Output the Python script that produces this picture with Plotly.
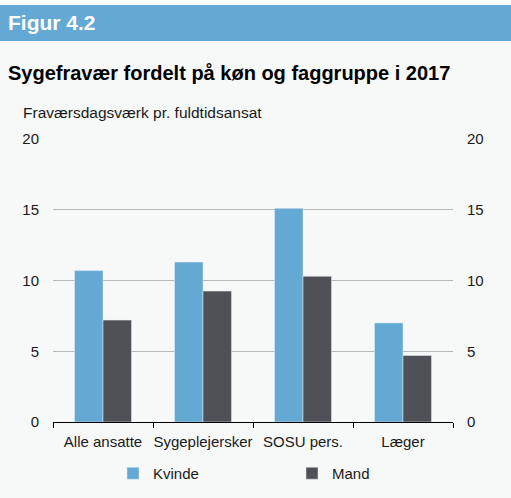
import plotly.graph_objects as go

categories = ["Alle ansatte", "Sygeplejersker", "SOSU pers.", "Læger"]
kvinde = [10.7, 11.3, 15.1, 7.0]
mand = [7.2, 9.25, 10.3, 4.7]
y_ticks = [0, 5, 10, 15, 20]

W, H = 511, 498
L, R, T, B = 53, 58, 139, 76
PW = W - L - R
PH = H - T - B

def px_x(x):
    return (x - L) / PW

def px_y(y):
    return (H - B - y) / PH

fig = go.Figure()
fig.add_trace(go.Bar(x=categories, y=kvinde, name="Kvinde", marker_color="#63a9d4"))
fig.add_trace(go.Bar(x=categories, y=mand, name="Mand", marker_color="#505156"))
fig.add_trace(go.Scatter(x=categories, y=[None]*4, yaxis="y2", showlegend=False, hoverinfo="skip"))

font = "Liberation Sans, Arial, sans-serif"
fig.update_layout(
    width=W, height=H,
    margin=dict(l=L, r=R, t=T, b=B, autoexpand=False),
    paper_bgcolor="#f7f8f8",
    plot_bgcolor="#f7f8f8",
    font=dict(family=font, size=15, color="#1a1a1a"),
    barmode="group",
    bargap=0.43,
    bargroupgap=0,
    showlegend=True,
    legend=dict(orientation="h", x=px_x(113), xanchor="left", y=px_y(457), yanchor="top",
                entrywidth=134, font=dict(size=15), itemwidth=30, bgcolor="rgba(0,0,0,0)",
                tracegroupgap=0),
    xaxis=dict(showline=True, linecolor="#000000", linewidth=1.3, ticks="outside",
               tickson="boundaries", ticklen=5, tickcolor="#000000", showgrid=False,
               tickangle=0, automargin=False, ticklabelstandoff=6),
    yaxis=dict(range=[0, 20], tickvals=y_ticks, showgrid=True, gridcolor="#b8b8b8",
               gridwidth=1, zeroline=False, ticks="", ticklabelstandoff=13, automargin=False),
    yaxis2=dict(range=[0, 20], tickvals=y_ticks, overlaying="y", side="right", showgrid=False,
                zeroline=False, ticks="", ticklabelstandoff=13, automargin=False),
    shapes=[
        dict(type="rect", xref="paper", yref="paper", x0=px_x(0), x1=px_x(W),
             y0=px_y(5), y1=px_y(0), fillcolor="#ffffff", line_width=0, layer="below"),
        dict(type="rect", xref="paper", yref="paper", x0=px_x(0), x1=px_x(W),
             y0=px_y(41), y1=px_y(5), fillcolor="#63a9d4", line_width=0, layer="below"),
    ],
    annotations=[
        dict(text="<b>Figur 4.2</b>", xref="paper", yref="paper", x=px_x(6), y=px_y(23),
             xanchor="left", yanchor="middle", showarrow=False,
             font=dict(size=21, color="#ffffff", family=font)),
        dict(text="<b>Sygefravær fordelt på køn og faggruppe i 2017</b>", xref="paper", yref="paper",
             x=px_x(6), y=px_y(73), xanchor="left", yanchor="middle", showarrow=False,
             font=dict(size=20, color="#000000", family=font)),
        dict(text="Fraværsdagsværk pr. fuldtidsansat", xref="paper", yref="paper",
             x=px_x(21), y=px_y(112), xanchor="left", yanchor="middle", showarrow=False,
             font=dict(size=15.5, color="#1a1a1a", family=font)),
    ],
)

fig.write_html("out.html", config={"displayModeBar": False},
               post_script="document.body.style.margin='0';document.body.style.overflow='hidden';")
